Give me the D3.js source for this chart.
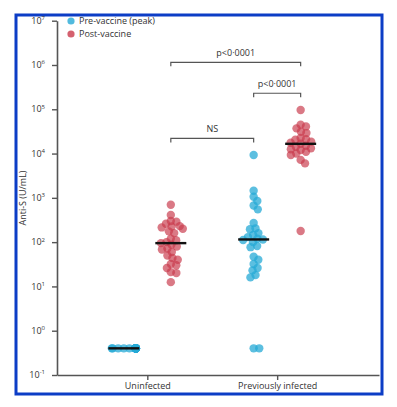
<!DOCTYPE html>
<html>
<head>
<meta charset="utf-8">
<script src="https://cdn.jsdelivr.net/npm/d3@7"></script>
<style>
  body { margin: 0; background: #fff; }
  text { font-family: "Open Sans", "Noto Sans", sans-serif; fill: #333; }
</style>
</head>
<body>
<div id="chart"></div>
<script>
let height = 407,
    width = 397,
    margin = ({ top: 20.7, right: 18, bottom: 32, left: 57 });

// data (U/mL)
const groups = ["Uninfected", "Previously infected"];
const phases = ["Pre-vaccine (peak)", "Post-vaccine"];
const exponents = [-1, 0, 1, 2, 3, 4, 5, 6, 7];

const uninfectedPre = [0.4, 0.4, 0.4, 0.4, 0.4, 0.4, 0.4, 0.4, 0.4, 0.4, 0.4, 0.4, 0.4,
  0.4, 0.4, 0.4, 0.4, 0.4, 0.4, 0.4, 0.4, 0.4, 0.4, 0.4, 0.4, 0.4];
const uninfectedPost = [700, 410, 300, 290, 260, 230, 225, 215, 200, 175, 160, 120, 110, 100,
  95, 88, 80, 72, 68, 60, 50, 44, 40, 32, 30, 26, 21, 20, 12.5];
const infectedPre = [9300, 1450, 1060, 850, 670, 550, 270, 205, 195, 160, 145, 130, 120, 115,
  112, 100, 82, 77, 47, 40, 32, 26, 23, 18, 16, 0.4, 0.4];
const infectedPost = [96000, 45000, 41000, 37000, 31000, 29000, 22500, 21000, 20500, 18600,
  17500, 16600, 15000, 14300, 13200, 12500, 12000, 11000, 10000, 9300, 7200, 6000, 178];

const comparisons = [
  { a: ["Uninfected", "Post-vaccine"], b: ["Previously infected", "Post-vaccine"], level: 1.15e6, label: "p<0·0001" },
  { a: ["Previously infected", "Pre-vaccine (peak)"], b: ["Previously infected", "Post-vaccine"], level: 2.3e5, label: "p<0·0001" },
  { a: ["Uninfected", "Post-vaccine"], b: ["Previously infected", "Pre-vaccine (peak)"], level: 2.2e4, label: "NS" }
];

const series = [
  { group: "Uninfected", phase: "Pre-vaccine (peak)", values: uninfectedPre },
  { group: "Uninfected", phase: "Post-vaccine", values: uninfectedPost },
  { group: "Previously infected", phase: "Pre-vaccine (peak)", values: infectedPre },
  { group: "Previously infected", phase: "Post-vaccine", values: infectedPost }
];

const color = d3.scaleOrdinal().domain(phases).range(["#26a9d6", "#c93a4b"]);
const opac = { "Pre-vaccine (peak)": 0.75, "Post-vaccine": 0.68 };

const svg = d3.select("#chart")
    .append("svg")
    .attr("width", width)
    .attr("height", height)
    .attr("viewBox", [0, 0, width, height]);

svg.append("rect")
  .attr("x", 16).attr("y", 15).attr("width", 366).attr("height", 379)
  .attr("fill", "none").attr("stroke", "#0c3dc6").attr("stroke-width", 3);

let x = d3.scalePoint()
  .domain(groups)
  .range([margin.left, width - margin.right])
  .padding(0.74)
  .align(0.47);

let xSub = d3.scalePoint().domain(phases).range([-23.5, 23.5]);

let y = d3.scaleLog()
  .domain([0.1, 1e7])
  .range([375, margin.top]);

const r = 4.2, rc = 2.8, maxW = 12;

// simple dodge so points at similar values sit side by side
function swarm(values) {
  const pts = values.map(v => ({ v, y: y(v), x: 0 }));
  const placed = [];
  for (const p of [...pts].sort((a, b) => a.y - b.y)) {
    const near = placed.filter(q => Math.abs(q.y - p.y) < 2 * rc);
    const cands = [0];
    for (const q of near) {
      const dx = Math.sqrt(4 * rc * rc - (q.y - p.y) ** 2);
      cands.push(q.x + dx, q.x - dx);
    }
    cands.sort((a, b) => Math.abs(a) - Math.abs(b));
    let best = cands.find(c => near.every(q => (q.x - c) ** 2 + (q.y - p.y) ** 2 >= 4 * rc * rc - 1e-6));
    if (best === undefined) best = 0;
    p.x = Math.max(-maxW, Math.min(maxW, best));
    placed.push(p);
  }
  return pts;
}

// axes
const yAxis = svg.append("g")
  .attr("transform", `translate(${margin.left},0)`)
  .call(d3.axisLeft(y).tickValues(exponents.map(e => Math.pow(10, e))).tickSize(5).tickSizeOuter(0).tickFormat(""));
yAxis.select(".domain").attr("stroke", "#555").attr("stroke-width", 1.6);
yAxis.selectAll(".tick line").attr("stroke", "#555").attr("stroke-width", 1.4);

const tl = svg.append("g").selectAll("text")
  .data(exponents)
  .join("text")
  .attr("x", 45)
  .attr("y", e => y(Math.pow(10, e)) + 3.2)
  .attr("text-anchor", "end")
  .style("font-size", "9px");
tl.append("tspan").text("10");
tl.append("tspan").attr("dy", -3.8).style("font-size", "6px").text(e => e);

const xAxis = svg.append("g")
  .attr("transform", `translate(0,375)`)
  .call(d3.axisBottom(x).tickSize(5).tickSizeOuter(0).tickPadding(3));
xAxis.select(".domain").attr("stroke", "#555").attr("stroke-width", 1.6);
xAxis.selectAll(".tick line").attr("stroke", "#555").attr("stroke-width", 1.4);
xAxis.selectAll(".tick text").style("font-size", "9px").attr("fill", "#333")
  .style("font-family", '"Open Sans", "Noto Sans", sans-serif');

svg.append("text")
  .attr("transform", `translate(26,198) rotate(-90)`)
  .attr("text-anchor", "middle")
  .style("font-size", "9px")
  .text("Anti-S (U/mL)");

// points
for (const s of series) {
  const cx = x(s.group) + xSub(s.phase);
  const pts = swarm(s.values);
  svg.append("g")
    .selectAll("circle")
    .data(pts)
    .join("circle")
    .attr("cx", d => cx + d.x)
    .attr("cy", d => d.y)
    .attr("r", r)
    .attr("fill", color(s.phase))
    .attr("opacity", opac[s.phase]);
}

// median lines
for (const s of series) {
  const cx = x(s.group) + xSub(s.phase);
  const med = d3.median(s.values);
  svg.append("line")
    .attr("x1", cx - 15.5).attr("x2", cx + 15.5)
    .attr("y1", y(med)).attr("y2", y(med))
    .attr("stroke", "#111").attr("stroke-width", 2.4);
}

// comparison brackets
for (const c of comparisons) {
  const x1 = x(c.a[0]) + xSub(c.a[1]);
  const x2 = x(c.b[0]) + xSub(c.b[1]);
  const yy = y(c.level);
  svg.append("path")
    .attr("d", `M${x1},${yy + 4}V${yy}H${x2}V${yy + 4}`)
    .attr("fill", "none").attr("stroke", "#555").attr("stroke-width", 1.2);
  svg.append("text")
    .attr("x", (x1 + x2) / 2).attr("y", yy - 6)
    .attr("text-anchor", "middle")
    .style("font-size", "9px")
    .text(c.label);
}

// legend
phases.forEach((p, i) => {
  svg.append("circle").attr("cx", 71).attr("cy", 21 + i * 13).attr("r", 3.6)
    .attr("fill", color(p)).attr("opacity", 0.8);
  svg.append("text").attr("x", 79).attr("y", 21 + i * 13).attr("dy", "0.35em")
    .style("font-size", "9px").text(p);
});
</script>
</body>
</html>
